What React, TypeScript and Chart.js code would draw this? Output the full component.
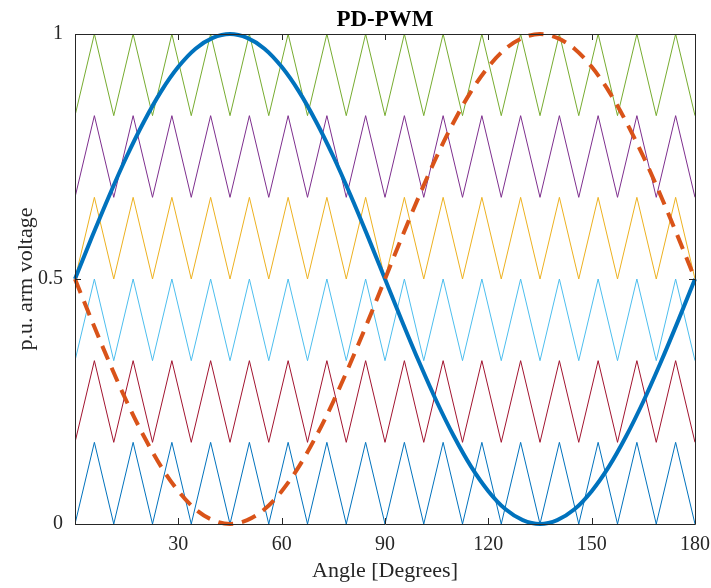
import React, { useEffect, useRef } from 'react';
import { Chart, registerables } from 'chart.js';

Chart.register(...registerables);

// Reference waveforms, sampled every 5 degrees
const angles = [0, 5, 10, 15, 20, 25, 30, 35, 40, 45, 50, 55, 60, 65, 70, 75, 80, 85, 90,
  95, 100, 105, 110, 115, 120, 125, 130, 135, 140, 145, 150, 155, 160, 165, 170, 175, 180];
const upperArmRef = [0.5, 0.587, 0.671, 0.75, 0.821, 0.883, 0.933, 0.97, 0.992, 1.0,
  0.992, 0.97, 0.933, 0.883, 0.821, 0.75, 0.671, 0.587, 0.5,
  0.413, 0.329, 0.25, 0.179, 0.117, 0.067, 0.03, 0.008, 0.0,
  0.008, 0.03, 0.067, 0.117, 0.179, 0.25, 0.329, 0.413, 0.5];
const lowerArmRef = [0.5, 0.413, 0.329, 0.25, 0.179, 0.117, 0.067, 0.03, 0.008, 0.0,
  0.008, 0.03, 0.067, 0.117, 0.179, 0.25, 0.329, 0.413, 0.5,
  0.587, 0.671, 0.75, 0.821, 0.883, 0.933, 0.97, 0.992, 1.0,
  0.992, 0.97, 0.933, 0.883, 0.821, 0.75, 0.671, 0.587, 0.5];

// Triangular carriers (phase disposition): vertices
const carrierAngles = [0, 5.625, 11.25, 16.875, 22.5, 28.125, 33.75, 39.375, 45, 50.625,
  56.25, 61.875, 67.5, 73.125, 78.75, 84.375, 90, 95.625, 101.25, 106.875, 112.5, 118.125,
  123.75, 129.375, 135, 140.625, 146.25, 151.875, 157.5, 163.125, 168.75, 174.375, 180];
const carrierLevels = [0, 1, 0, 1, 0, 1, 0, 1, 0, 1, 0, 1, 0, 1, 0, 1, 0,
  1, 0, 1, 0, 1, 0, 1, 0, 1, 0, 1, 0, 1, 0, 1, 0];
const bandBases = [0, 0.16667, 0.33333, 0.5, 0.66667, 0.83333];
const bandHeight = 0.16667;
const bandColors = ['#0072BD', '#A2142F', '#4DBEEE', '#EDB120', '#7E2F8E', '#77AC30'];

const xTicks = [30, 60, 90, 120, 150, 180];
const yTicks = [0, 0.5, 1];
const yTickLabels = ['0', '0.5', '1'];

const AXIS_COLOR = '#262626';
const FONT = 'Liberation Serif';

const framePlugin = {
  id: 'frameAndTitle',
  afterDraw(chart: any) {
    const { ctx, chartArea: a, scales } = chart;
    ctx.save();
    ctx.strokeStyle = AXIS_COLOR;
    ctx.lineWidth = 1;
    ctx.beginPath();
    ctx.rect(Math.round(a.left) + 0.5, Math.round(a.top) + 0.5,
      Math.round(a.right - a.left), Math.round(a.bottom - a.top));
    ctx.stroke();
    const tl = 6;
    ctx.beginPath();
    for (const t of scales.x.ticks) {
      const px = Math.round(scales.x.getPixelForValue(t.value)) + 0.5;
      ctx.moveTo(px, a.bottom);
      ctx.lineTo(px, a.bottom - tl);
      ctx.moveTo(px, a.top);
      ctx.lineTo(px, a.top + tl);
    }
    for (const t of scales.y.ticks) {
      const py = Math.round(scales.y.getPixelForValue(t.value)) + 0.5;
      ctx.moveTo(a.left, py);
      ctx.lineTo(a.left + tl, py);
      ctx.moveTo(a.right, py);
      ctx.lineTo(a.right - tl, py);
    }
    ctx.stroke();
    ctx.fillStyle = '#000';
    ctx.font = `bold 23px "${FONT}"`;
    ctx.textAlign = 'center';
    ctx.textBaseline = 'alphabetic';
    ctx.fillText('PD-PWM', (a.left + a.right) / 2, 26);
    ctx.restore();
  },
};

export default function App() {
  const ref = useRef<HTMLCanvasElement | null>(null);
  useEffect(() => {
    if (!ref.current) return;
    const carrierSets = bandBases.map((base, i) => ({
      label: `Carrier ${i + 1}`,
      data: carrierAngles.map((x, k) => ({ x, y: base + carrierLevels[k] * bandHeight })),
      borderColor: bandColors[i],
      borderWidth: 1,
      pointRadius: 0,
      tension: 0,
      fill: false,
    }));
    const chart = new Chart(ref.current, {
      type: 'line',
      data: {
        datasets: [
          {
            label: 'Lower arm',
            data: angles.map((x, k) => ({ x, y: lowerArmRef[k] })),
            borderColor: '#D95319',
            borderWidth: 4,
            borderDash: [15, 9],
            pointRadius: 0,
            cubicInterpolationMode: 'monotone',
            clip: 6,
            fill: false,
          },
          {
            label: 'Upper arm',
            data: angles.map((x, k) => ({ x, y: upperArmRef[k] })),
            borderColor: '#0072BD',
            borderWidth: 4,
            pointRadius: 0,
            cubicInterpolationMode: 'monotone',
            clip: 6,
            fill: false,
          },
          ...carrierSets,
        ],
      } as any,
      options: {
        animation: false,
        responsive: false,
        maintainAspectRatio: false,
        events: [],
        layout: { padding: { top: 34, right: 16, bottom: 0, left: 0 } },
        plugins: { legend: { display: false }, tooltip: { enabled: false }, title: { display: false } },
        scales: {
          x: {
            type: 'linear',
            min: 0,
            max: 180,
            afterBuildTicks: (s: any) => { s.ticks = xTicks.map((v) => ({ value: v })); },
            afterFit: (s: any) => { s.height = 64; s.paddingLeft = 0; s.paddingRight = 0; },
            grid: { display: false, drawTicks: false },
            border: { display: false },
            ticks: { color: AXIS_COLOR, font: { family: FONT, size: 20 }, padding: 9, maxRotation: 0, autoSkip: false },
            title: {
              display: true,
              text: 'Angle [Degrees]',
              color: AXIS_COLOR,
              font: { family: FONT, size: 22 },
              padding: { top: 0, bottom: 4 },
            },
          },
          y: {
            type: 'linear',
            min: 0,
            max: 1,
            afterBuildTicks: (s: any) => { s.ticks = yTicks.map((v) => ({ value: v })); },
            afterFit: (s: any) => { s.width = 75; s.paddingTop = 0; s.paddingBottom = 0; },
            grid: { display: false, drawTicks: false },
            border: { display: false },
            ticks: {
              color: AXIS_COLOR,
              font: { family: FONT, size: 20 },
              padding: 12,
              autoSkip: false,
              callback: (v: number) => yTickLabels[yTicks.indexOf(v)] ?? String(v),
            },
            title: {
              display: true,
              text: 'p.u. arm voltage',
              color: AXIS_COLOR,
              font: { family: FONT, size: 22 },
              padding: { top: 13, bottom: 0 },
            },
          },
        },
      } as any,
      plugins: [framePlugin],
    });
    return () => chart.destroy();
  }, []);
  return (
    <div style={{ position: 'absolute', left: 0, top: 0, width: 711, height: 588, background: '#fff' }}>
      <canvas ref={ref} width={711} height={588} style={{ width: 711, height: 588, display: 'block' }} />
    </div>
  );
}
